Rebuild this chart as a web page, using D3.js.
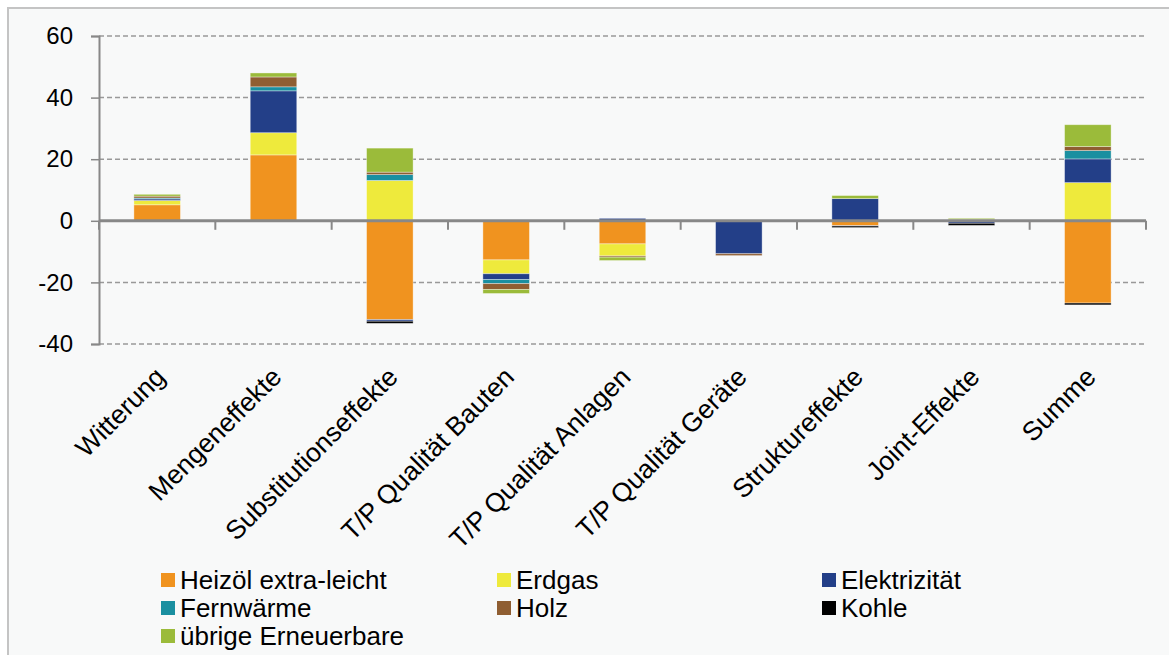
<!DOCTYPE html>
<html><head><meta charset="utf-8">
<script src="https://cdn.jsdelivr.net/npm/d3@7"></script>
<style>
html,body{margin:0;padding:0;background:#ffffff;}
svg{display:block;font-family:"Liberation Sans",Arial,sans-serif;}
</style></head>
<body>
<svg id="chart" width="1169" height="655"></svg>
<script>
const categories = ["Witterung","Mengeneffekte","Substitutionseffekte","T/P Qualität Bauten","T/P Qualität Anlagen","T/P Qualität Geräte","Struktureffekte","Joint-Effekte","Summe"];
const seriesNames = ["Heizöl extra-leicht","Erdgas","Elektrizität","Fernwärme","Holz","Kohle","übrige Erneuerbare"];
const heizoel      = [5.2, 21.4, -32.1, -12.7, -7.5, 0, -1.5, 0, -26.7];
const erdgas       = [1.4, 7.2, 13.1, -4.5, -3.9, 0, 0, 0.4, 12.4];
const elektrizitaet= [0.5, 13.6, -0.5, -1.9, 0.8, -10.7, 7.2, -0.8, 7.7];
const fernwaerme   = [0.3, 1.3, 1.9, -1.3, 0, 0, 0, 0, 2.7];
const holz         = [0.6, 3.2, 0.8, -1.9, -0.4, -0.6, -0.2, 0, 1.3];
const kohle        = [0, 0, -0.7, 0, 0, 0, -0.5, -0.7, -0.6];
const uebrige      = [0.6, 1.3, 7.8, -1.3, -1.1, 0, 1.0, 0.4, 7.1];
const yTicks = [-40, -20, 0, 20, 40, 60];
const colors = ["#f0931f","#eeea3c","#233f88","#1a8fa0","#8f5e32","#000000","#9bbb3a"];

const seriesValues = [heizoel, erdgas, elektrizitaet, fernwaerme, holz, kohle, uebrige];
const table = categories.map((c, i) => {
  const row = {cat: c};
  seriesNames.forEach((s, j) => row[s] = seriesValues[j][i]);
  return row;
});

const svg = d3.select("#chart");
svg.append("rect").attr("x",0).attr("y",0).attr("width",1169).attr("height",655).attr("fill","#ffffff");
svg.append("rect").attr("x",8).attr("y",8).attr("width",1169).attr("height",655).attr("fill","#f8f9f9")
  .attr("stroke","#c4c4c4").attr("stroke-width",2);

const x = d3.scaleBand().domain(categories).range([99, 1146]).paddingInner(0.6).paddingOuter(0.3);
const y = d3.scaleLinear().domain([-40, 60]).range([344, 36]);

// gridlines
svg.append("g").selectAll("line").data(yTicks.filter(t => t !== 0)).join("line")
  .attr("x1", 99).attr("x2", 1146)
  .attr("y1", d => y(d)).attr("y2", d => y(d))
  .attr("stroke", "#999").attr("stroke-width", 1.5).attr("stroke-dasharray", "5,3");

// stacked bars
const stack = d3.stack().keys(seriesNames).offset(d3.stackOffsetDiverging);
const stacked = stack(table);
svg.append("g").selectAll("g").data(stacked).join("g")
  .attr("fill", (d, i) => colors[i])
  .selectAll("rect").data(d => d).join("rect")
  .attr("x", d => x(d.data.cat))
  .attr("width", x.bandwidth())
  .attr("y", d => y(Math.max(d[0], d[1])))
  .attr("height", d => Math.abs(y(d[0]) - y(d[1])))
  .attr("stroke", "rgba(255,255,255,0.45)").attr("stroke-width", 0.8);

// y axis
const yAxis = d3.axisLeft(y).tickValues(yTicks).tickSize(8).tickPadding(18).tickFormat(d => String(d));
const yg = svg.append("g").attr("transform", "translate(99,0)").call(yAxis);
yg.select(".domain").attr("stroke", "#888").attr("stroke-width", 2);
yg.selectAll(".tick line").attr("stroke", "#888").attr("stroke-width", 1.5);
yg.selectAll(".tick text").attr("font-size", 24).attr("fill", "#000").attr("font-family", "Liberation Sans, Arial, sans-serif");

// x axis at zero
const step = x.step();
svg.append("line").attr("x1", 99).attr("x2", 1146).attr("y1", y(0)).attr("y2", y(0))
  .attr("stroke", "#888").attr("stroke-width", 3);
svg.append("g").selectAll("line").data(d3.range(categories.length + 1)).join("line")
  .attr("x1", i => 99 + i * step).attr("x2", i => 99 + i * step)
  .attr("y1", y(0)).attr("y2", y(0) + 9)
  .attr("stroke", "#888").attr("stroke-width", 2);

// category labels
svg.append("g").selectAll("text").data(categories).join("text")
  .attr("transform", d => `translate(${x(d) + x.bandwidth() / 2 + 3},372) rotate(-45)`)
  .attr("text-anchor", "end")
  .attr("dy", "0.35em")
  .attr("font-size", 26.5)
  .attr("fill", "#000")
  .text(d => d);

// legend
const legendPos = [[161,580],[497,580],[822,580],[161,608],[497,608],[822,608],[161,636]];
const lg = svg.append("g").selectAll("g").data(seriesNames).join("g")
  .attr("transform", (d, i) => `translate(${legendPos[i][0]},${legendPos[i][1]})`);
lg.append("rect").attr("x", 0).attr("y", -7).attr("width", 14).attr("height", 14).attr("fill", (d, i) => colors[i]);
lg.append("text").attr("x", 19).attr("y", 0).attr("dy", "0.35em").attr("font-size", 26).attr("fill", "#000").text(d => d);
</script>
</body></html>
